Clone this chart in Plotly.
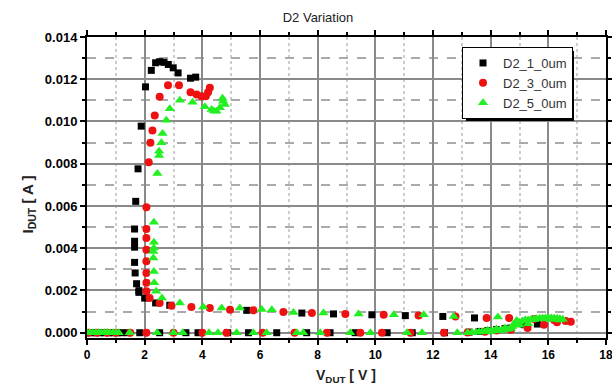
import plotly.graph_objects as go

# ---- data ----
d1_v = [0.0, 0.15, 0.3, 0.45, 0.6, 0.75, 0.9, 1.05, 1.19, 1.4, 1.83, 2.52, 3.43, 3.85, 4.88, 5.6, 6.58,
        7.62, 8.43, 9.3, 10.41, 11.28, 12.4, 13.25, 13.6, 13.9, 14.2, 14.5, 14.7, 15.16, 15.62,
        13.44, 12.34, 11.04, 9.88, 8.55, 7.45, 5.54, 2.87, 2.38, 2.0, 1.8,
        1.8, 1.72, 1.67, 1.65, 1.65, 1.65, 1.65, 1.69, 1.77, 1.88, 2.03, 2.23, 2.38, 2.52, 2.67,
        2.82, 2.99, 3.16, 3.59, 3.77]
d1_i = [0, 0, 0, 0, 0, 0, 0, 0, 0, 0, 0, 0, 0, 0, 0, 0, 0,
        0, 0, 0, 0, 0, 0, 0.00003, 0.00006, 0.0001, 0.00015, 0.0002, 0.00022, 0.00038, 0.00041,
        0.0007, 0.00077, 0.00081, 0.00085, 0.00089, 0.00093, 0.00106, 0.0013, 0.00141, 0.00164, 0.00191,
        0.00199, 0.00232, 0.00283, 0.00333, 0.00405, 0.00433, 0.00491, 0.00622, 0.00776, 0.00978, 0.01164,
        0.01242, 0.01278, 0.01283, 0.0128, 0.0127, 0.01254, 0.0123, 0.01205, 0.0121]

d3_v = [0.05, 0.35, 0.7, 1.0, 1.5, 2.06, 3.0, 4.0, 4.84, 6.09, 7.2, 8.32, 9.48, 10.23, 11.22, 12.38,
        13.2, 13.8, 14.2, 14.7, 15.28, 15.85, 16.3, 16.78,
        16.6, 16.2, 15.5, 14.64, 13.86, 12.78, 11.5, 10.29, 8.96, 7.8, 6.81, 5.77, 4.96, 4.26, 3.62,
        2.93, 2.52, 2.17, 2.06,
        2.06, 2.06, 2.06, 2.06, 2.06, 2.06, 2.06, 2.14, 2.2, 2.27, 2.35, 2.52, 2.81, 3.19, 3.59, 3.8,
        3.97, 4.12, 4.2, 4.26]
d3_i = [0, 0, 0, 0, 0, 0, 0, 0, 0, 0, 0, 0, 0, 0, 0, 0,
        0.00001, 0.00005, 0.0001, 0.00014, 0.00022, 0.00038, 0.0005, 0.00052,
        0.00055, 0.0006, 0.00065, 0.0007, 0.0007, 0.00077, 0.00082, 0.00085, 0.00089, 0.00093, 0.00098,
        0.00106, 0.00109, 0.00117, 0.00122, 0.00128, 0.00141, 0.00164, 0.00196,
        0.00236, 0.00283, 0.00338, 0.00393, 0.00449, 0.00491, 0.00594, 0.00807, 0.00899, 0.00957,
        0.01028, 0.01117, 0.01171, 0.01172, 0.01139, 0.01128, 0.0112, 0.0112, 0.01139, 0.0116]

d5_v = [0.0, 0.1, 0.2, 0.3, 0.4, 0.5, 0.6, 0.7, 0.8, 0.9, 1.0, 1.1, 1.48, 2.43, 3.0, 3.32, 4.23,
        4.54, 5.19, 5.77, 6.23, 7.28, 7.5, 8.09, 9.13, 9.83, 11.1, 11.62, 12.84,
        13.2, 13.35, 13.5, 13.6, 13.7, 13.8, 13.9, 14.0, 14.1, 14.2, 14.3, 14.4, 14.5, 14.6, 14.7,
        14.8, 14.9, 15.0, 15.1, 15.2, 15.3, 15.4, 15.5, 15.6, 15.7, 15.8, 15.9, 16.0, 16.1, 16.2,
        16.3, 16.4, 16.5, 14.9, 15.2, 15.5, 15.8, 16.1, 16.4,
        13.9, 14.2, 14.5, 14.75, 15.0, 15.3,
        14.25, 12.72, 11.68, 10.64, 9.42, 8.2, 7.16, 6.41, 6.06, 5.3, 4.67, 4.03, 3.22, 2.6, 2.4,
        2.33, 2.32, 2.3, 2.3, 2.32, 2.32, 2.32, 2.44, 2.5, 2.5, 2.58, 2.62, 2.75, 2.87, 3.22, 3.66,
        4.09, 4.32, 4.49, 4.61, 4.72, 4.78, 4.4, 4.7]
d5_i = [0, 0, 0, 0, 0, 0, 0, 0, 0, 0, 0, 0, 0, 0, 0, 0, 0,
        0, 0, 0, 0, 0, 0, 0, 0, 0, 0, 0, 0,
        0.0, 0.00001, 0.00002, 0.00003, 0.00004, 0.00005, 0.00006, 0.00007, 0.00008, 0.0001, 0.00011,
        0.00013, 0.00015, 0.00017, 0.0002, 0.0004, 0.00045, 0.0005, 0.00055, 0.00058, 0.0006, 0.00062,
        0.00064, 0.00066, 0.00068, 0.00069, 0.0007, 0.00071, 0.0007, 0.00069, 0.00068, 0.00066,
        0.00064, 0.00058, 0.0006, 0.00062, 0.00065, 0.00063, 0.0006,
        0.00012, 0.00018, 0.00022, 0.0003, 0.00035, 0.00042,
        0.00074, 0.00077, 0.00085, 0.00085, 0.00089, 0.00093, 0.00096, 0.00109, 0.0011, 0.00117,
        0.00117, 0.00122, 0.00141, 0.00164, 0.00196,
        0.00236, 0.0029, 0.00354, 0.00385, 0.00401, 0.00428, 0.00523, 0.00754, 0.00839, 0.00859,
        0.00899, 0.00943, 0.01006, 0.0106, 0.01101, 0.01091, 0.0107, 0.01057, 0.01049, 0.01065,
        0.01096, 0.0108, 0.0105, 0.0111]

series = [
    ("D2_1_0um", d1_v, d1_i, "square", "#000000", 7),
    ("D2_3_0um", d3_v, d3_i, "circle", "#ee1111", 8),
    ("D2_5_0um", d5_v, d5_i, "triangle-up", "#22ee22", 9),
]

x_ticks = [0, 2, 4, 6, 8, 10, 12, 14, 16, 18]
y_ticks = [0.000, 0.002, 0.004, 0.006, 0.008, 0.010, 0.012, 0.014]

fig = go.Figure()
for name, xv, yv, sym, col, sz in series:
    fig.add_trace(go.Scatter(x=xv, y=yv, mode="markers", name=name,
                             marker=dict(symbol=sym, color=col, size=sz, line=dict(width=0))))

W, H = 612, 392
L, R, T, B = 87, 6, 37, 54
pw, ph = W - L - R, H - T - B

def px(xp):
    return (xp - L) / pw

def py(yp):
    return (H - B - yp) / ph

font = "Liberation Sans, Arial, sans-serif"

# legend box geometry (pixels) used for the legend and its drop shadow
LG_L, LG_T = 462, 47
LG_W, LG_H = 108, 70

fig.update_layout(
    width=W, height=H,
    margin=dict(l=L, r=R, t=T, b=B, autoexpand=False),
    paper_bgcolor="white", plot_bgcolor="white",
    font=dict(family=font, color="black"),
    title=dict(text="D2 Variation", x=318 / W, xanchor="center", yref="container",
               y=1 - 17 / H, yanchor="middle", font=dict(size=13, color="#222")),
    showlegend=True,
    legend=dict(x=px(LG_L), y=py(LG_T), xanchor="left", yanchor="top",
                bgcolor="white", bordercolor="black", borderwidth=1,
                font=dict(size=13, color="#333"), itemwidth=30, tracegroupgap=0),
    xaxis=dict(range=[0, 18], tickvals=x_ticks, ticktext=[str(v) for v in x_ticks],
               automargin=False, ticklabeloverflow="allow",
               showline=True, linecolor="black", linewidth=2, mirror="allticks",
               ticks="outside", ticklen=5, tickcolor="black", tickwidth=1.5,
               tickfont=dict(size=12, weight="bold"),
               showgrid=True, gridcolor="#8a8a8a", gridwidth=1.5, zeroline=False,
               minor=dict(dtick=1, showgrid=True, gridcolor="#cccccc", griddash="dot",
                          ticks="outside", ticklen=3, tickcolor="black")),
    yaxis=dict(range=[-0.00025, 0.014], tickvals=y_ticks,
               ticktext=["%.3f" % v for v in y_ticks],
               automargin=False,
               showline=True, linecolor="black", linewidth=2, mirror="allticks",
               ticks="outside", ticklen=5, tickcolor="black", tickwidth=1.5,
               tickfont=dict(size=13, weight="bold"),
               showgrid=True, gridcolor="#8a8a8a", gridwidth=1.5, zeroline=False,
               minor=dict(dtick=0.001, tick0=0, showgrid=True, gridcolor="#aaaaaa", griddash="dash",
                          ticks="outside", ticklen=3, tickcolor="black")),
)

# drop shadow behind legend box
fig.add_shape(type="rect", xref="paper", yref="paper", layer="above",
              x0=px(LG_L + 4), x1=px(LG_L + LG_W + 4), y0=py(LG_T + LG_H + 4), y1=py(LG_T + 4),
              fillcolor="black", line=dict(width=0))

fig.add_annotation(text="<b>I<sub>DUT</sub> [ A ]</b>", xref="paper", yref="paper",
                   x=px(16), y=py(205), textangle=-90, showarrow=False,
                   font=dict(size=15, color="#222"))
fig.add_annotation(text="<b>V<sub>DUT</sub> [ V ]</b>", xref="paper", yref="paper",
                   x=px(346), y=py(365), yanchor="top", showarrow=False,
                   font=dict(size=14, color="#222"))

fig.write_html("out.html", config={"displayModeBar": False},
               post_script="document.body.style.margin='0px';")
